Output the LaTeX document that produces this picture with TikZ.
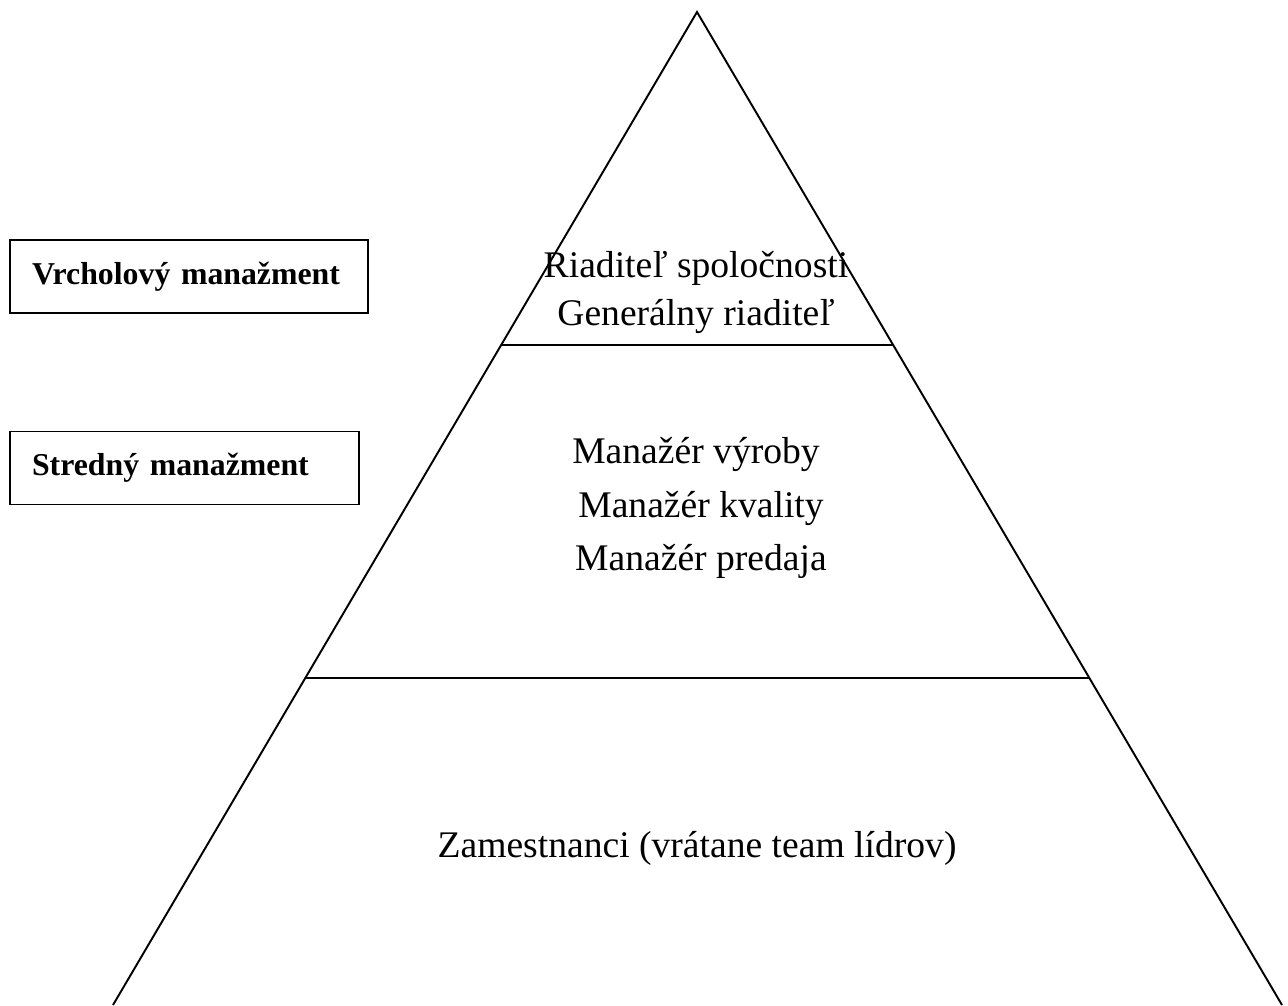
\documentclass[tikz,border=0pt]{standalone}
\usepackage{fontspec}
\setmainfont{Liberation Serif}
\usetikzlibrary{calc}

\begin{document}
\begin{tikzpicture}[x=0.02cm,y=-0.02cm,
  level/.style={font=\fontsize{21.4}{25}\selectfont,anchor=base},
  mgmt/.style={draw,line width=0.8pt,font=\fontsize{18.1}{22}\selectfont\bfseries,align=left,inner xsep=0.44cm,minimum height=1.46cm}]
\useasboundingbox (0,0) rectangle (1288,1005);
% pyramid
\coordinate (apex) at (697,12);
\coordinate (bl) at (113,1005);
\coordinate (br) at (1282,1005);
\draw[line width=1.1pt] (bl) -- (apex) -- (br);
\draw[line width=1.5pt] ($(apex)!0.3353!(bl)$) -- ($(apex)!0.3353!(br)$);
\draw[line width=1.5pt] ($(apex)!0.6707!(bl)$) -- ($(apex)!0.6707!(br)$);
% levels
\node[level] (ceo1) at (696,277) {Riaditeľ spoločnosti};
\node[level] (ceo2) at (696,325) {Generálny riaditeľ};
\node[level] (man1) at (696,463) {Manažér výroby};
\node[level] (man2) at (701,517) {Manažér kvality};
\node[level] (man3) at (701,570) {Manažér predaja};
\node[level] (emp) at (697,857) {Zamestnanci (vrátane team lídrov)};
% side labels
\node[mgmt,text width=6.28cm] (topmgmt) at (189,276.5) {Vrcholový manažment};
\node[mgmt,text width=6.10cm] (midmgmt) at (184.5,468) {Stredný manažment};
\end{tikzpicture}
\end{document}
